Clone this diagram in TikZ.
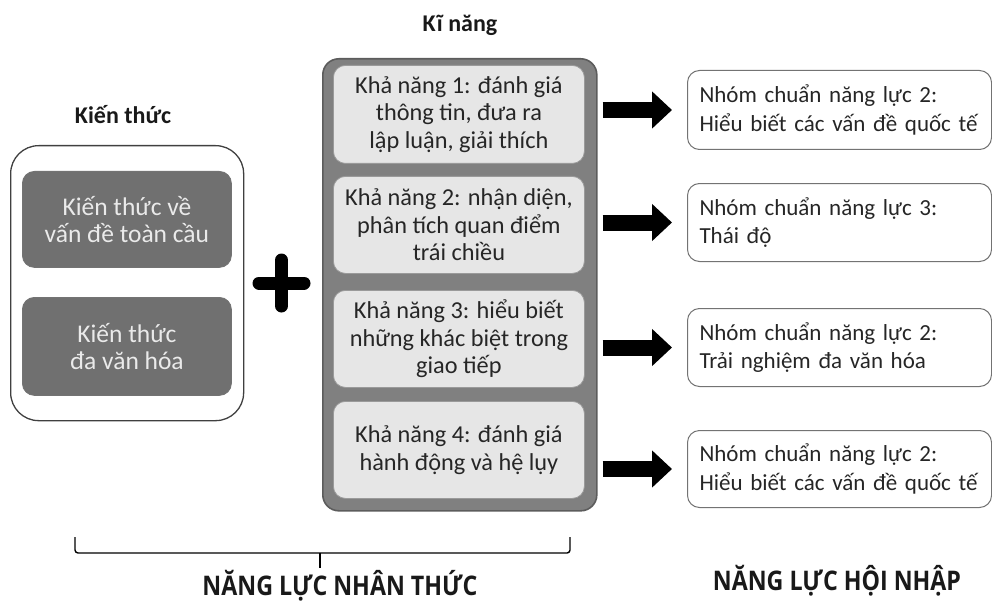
\documentclass[tikz,border=0pt]{standalone}
\usepackage{fontspec}
\setmainfont{Carlito}
\newfontfamily\labelfont[FakeStretch=0.86]{Open Sans}
\usetikzlibrary{arrows.meta}
\definecolor{darkbox}{HTML}{707070}
\definecolor{darktxt}{HTML}{EAEAEA}
\definecolor{midgrey}{HTML}{808080}
\definecolor{midedge}{HTML}{5C5C5C}
\definecolor{lightbox}{HTML}{E6E6E6}
\definecolor{lightedge}{HTML}{9A9A9A}
\tikzset{
  px/.style={x=1pt,y=-1pt},
  outerwhite/.style={draw=black!75,line width=1.3pt,rounded corners=28pt,fill=white,anchor=north west,inner sep=0pt},
  darkbx/.style={draw=black!55,line width=0.8pt,fill=darkbox,rounded corners=12pt,anchor=north west,inner sep=0pt,
     text=darktxt,align=center,font=\fontsize{25.5}{27}\selectfont},
  greybig/.style={draw=midedge,line width=1.6pt,fill=midgrey,rounded corners=16pt,anchor=north west,inner sep=0pt},
  skillbx/.style={draw=lightedge,line width=0.8pt,fill=lightbox,rounded corners=12pt,anchor=north west,inner sep=0pt,
     text=black!85,align=center,font=\fontsize{24.3}{27.5}\selectfont},
  resbx/.style={draw=black!55,line width=1pt,fill=white,rounded corners=12pt,anchor=north west,inner ysep=0pt,inner xsep=12pt,
     text=black!85,align=left,font=\fontsize{23}{28.5}\selectfont},
  titletxt/.style={font=\bfseries\fontsize{24}{26}\selectfont,text=black!90},
  bottomtxt/.style={font=\labelfont\bfseries\fontsize{27}{30}\selectfont,text=black!90},
  bigarrow/.style={line width=16pt,-{Triangle[length=20pt,width=36pt]},black,shorten <=5pt,shorten >=15pt},
}
\begin{document}
\begin{tikzpicture}[px]
\useasboundingbox (0,0) rectangle (992,604);
% titles
\node[titletxt] (tK) at (123,115) {Kiến thức};
\node[titletxt] (tS) at (460,25) {Kĩ năng};
% knowledge
\node[outerwhite,minimum width=233pt,minimum height=275pt] (kw) at (10,145) {};
\node[darkbx,minimum width=209pt,minimum height=96pt] (k1) at (22,171) {Kiến thức về\\vấn đề toàn cầu};
\node[darkbx,minimum width=209pt,minimum height=98pt] (k2) at (22,297) {Kiến thức\\đa văn hóa};
% plus
\coordinate (pl) at (259,283);
\coordinate (pr) at (304,283);
\coordinate (pt) at (281.5,260);
\coordinate (pb) at (281.5,306);
\draw[line width=13pt,line cap=round] (pl) -- (pr);
\draw[line width=13pt,line cap=round] (pt) -- (pb);
% skills
\node[greybig,minimum width=274pt,minimum height=452pt] (sk) at (322,58) {};
\node[skillbx,minimum width=251pt,minimum height=98pt] (s1) at (333,65) {Khả năng 1: đánh giá\\thông tin, đưa ra\\lập luận, giải thích};
\node[skillbx,minimum width=251pt,minimum height=97pt] (s2) at (333,176) {Khả năng 2: nhận diện,\\phân tích quan điểm\\trái chiều};
\node[skillbx,minimum width=251pt,minimum height=97pt] (s3) at (333,290) {Khả năng 3: hiểu biết\\những khác biệt trong\\giao tiếp};
\node[skillbx,minimum width=251pt,minimum height=97pt] (s4) at (333,401) {Khả năng 4: đánh giá\\hành động và hệ lụy};
% results
\node[resbx,minimum width=304pt,minimum height=79pt,text width=280pt] (r1) at (687,70) {Nhóm chuẩn năng lực 2:\\Hiểu biết các vấn đề quốc tế};
\node[resbx,minimum width=304pt,minimum height=78pt,text width=280pt] (r2) at (687,183) {Nhóm chuẩn năng lực 3:\\Thái độ};
\node[resbx,minimum width=304pt,minimum height=78pt,text width=280pt] (r3) at (687,308) {Nhóm chuẩn năng lực 2:\\Trải nghiệm đa văn hóa};
\node[resbx,minimum width=304pt,minimum height=77pt,text width=280pt] (r4) at (687,430) {Nhóm chuẩn năng lực 2:\\Hiểu biết các vấn đề quốc tế};
% arrows
\draw[bigarrow] (sk.east |- r1.west) -- (r1.west);
\draw[bigarrow] (sk.east |- r2.west) -- (r2.west);
\draw[bigarrow] (sk.east |- r3.west) -- (r3.west);
\draw[bigarrow] (sk.east |- r4.west) -- (r4.west);
% brace
\coordinate (bl) at (75,537);
\coordinate (br) at (570,537);
\coordinate (btip) at (320,568);
\draw[line width=1.4pt,rounded corners=3pt] (bl) -- (75,553) -- (570,553) -- (br);
\draw[line width=1.4pt] (320,553) -- (btip);
% bottom labels
\node[bottomtxt] (nt) at (340,586) {NĂNG LỰC NHÂN THỨC};
\node[bottomtxt] (hn) at (837,581) {NĂNG LỰC HỘI NHẬP};
\end{tikzpicture}
\end{document}
